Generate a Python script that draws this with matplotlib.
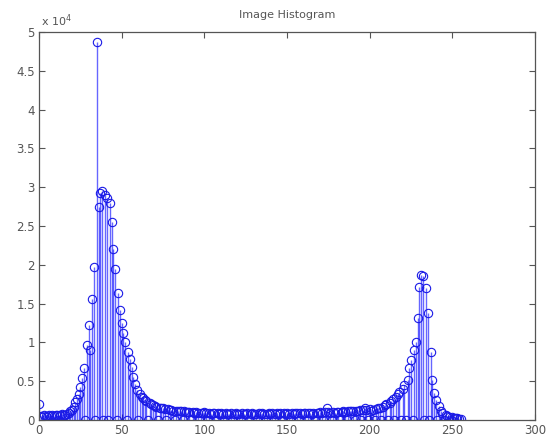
import numpy as np
import matplotlib
matplotlib.use('Agg')
import matplotlib.pyplot as plt
from matplotlib.ticker import FuncFormatter

# histogram counts for gray levels 0..255
counts = [
    2000, 500, 400, 600, 500, 400, 600, 500, 700, 500, 600, 700, 0, 600, 800, 700,
    700, 800, 900, 1100, 1300, 1700, 2300, 2700, 3300, 4300, 5400, 6700, 0, 9700, 12200, 9000,
    15600, 19700, 0, 48700, 27500, 29200, 29500, 0, 29000, 28600, 0, 28000, 25500, 22000, 19500, 0,
    16400, 14200, 12500, 11200, 10000, 0, 8800, 7800, 6800, 5500, 4600, 3900, 0, 3400, 3000, 2800,
    2600, 2400, 0, 2200, 2000, 1900, 1800, 1700, 0, 1600, 1500, 1500, 1400, 0, 1400, 1300,
    1300, 1200, 0, 1200, 1200, 1100, 1100, 0, 1100, 1000, 1000, 1000, 0, 1000, 900, 1000,
    900, 0, 900, 900, 1000, 900, 0, 900, 800, 900, 900, 0, 900, 800, 900, 800,
    0, 900, 800, 800, 900, 0, 800, 900, 800, 800, 0, 900, 800, 800, 900, 0,
    800, 900, 800, 800, 0, 900, 800, 900, 800, 0, 800, 900, 800, 900, 0, 800,
    900, 800, 900, 0, 900, 800, 900, 800, 0, 900, 800, 900, 900, 0, 900, 800,
    900, 900, 0, 900, 900, 800, 900, 0, 900, 900, 1000, 900, 0, 1000, 1500, 1000,
    900, 0, 1000, 900, 1000, 1000, 0, 1000, 1100, 1000, 0, 1100, 1100, 1200, 1100, 0,
    1200, 1200, 1300, 0, 1300, 1600, 1300, 0, 1400, 1200, 1300, 0, 1400, 1500, 1600, 0,
    1700, 1900, 2000, 0, 2200, 2400, 2700, 0, 3000, 3300, 3600, 0, 4000, 4500, 0, 5200,
    6700, 7700, 0, 9000, 10000, 13100, 17100, 18700, 18500, 0, 17000, 13800, 0, 8800, 5200, 3500,
    2600, 0, 1800, 1200, 900, 0, 600, 500, 400, 0, 400, 300, 300, 200, 150, 100,
]
levels = np.arange(len(counts))

xticks = [0, 50, 100, 150, 200, 250, 300]
yticks = [0, 5000, 10000, 15000, 20000, 25000, 30000, 35000, 40000, 45000, 50000]

gray = '#555555'
plt.rcParams['font.family'] = 'DejaVu Sans'

fig = plt.figure(figsize=(5.54, 4.43), dpi=100)
ax = fig.add_axes([39/554, 23/443, 496/554, 388/443])

mk, st, bl = ax.stem(levels, counts, linefmt='-', markerfmt='o', basefmt=' ')
plt.setp(st, color=(0, 0, 1), linewidth=1.0, alpha=0.6)
plt.setp(mk, markerfacecolor='none', markeredgecolor=(0.1, 0.1, 0.9), markersize=6, markeredgewidth=0.8)

ax.set_xlim(0, 300)
ax.set_ylim(0, 50000)
ax.set_xticks(xticks)
ax.set_yticks(yticks)
ax.yaxis.set_major_formatter(FuncFormatter(lambda v, p: '%g' % (v / 1e4)))
ax.tick_params(direction='in', top=True, right=True, length=4, width=0.8,
               colors=gray, labelsize=8.5, pad=3)
for s in ax.spines.values():
    s.set_color(gray)
    s.set_linewidth(0.9)

ax.set_title('Image Histogram', fontsize=8, color=gray, pad=10)
ax.text(0.005, 1.008, 'x 10$^4$', transform=ax.transAxes, fontsize=8,
        color=gray, ha='left', va='bottom')

fig.savefig('out.png', dpi=100)
